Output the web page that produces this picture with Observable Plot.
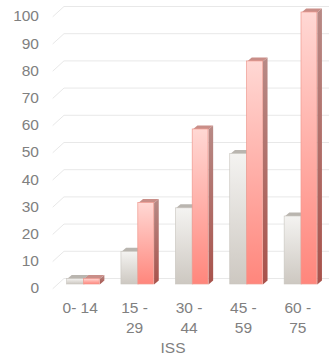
<!DOCTYPE html>
<html>
<head>
<meta charset="utf-8">
<script src="https://cdn.jsdelivr.net/npm/d3@7"></script>
<script src="https://cdn.jsdelivr.net/npm/@observablehq/plot@0.6"></script>
<style>
  html, body { margin: 0; padding: 0; background: #fff; }
  #defs { position: absolute; width: 0; height: 0; }
</style>
</head>
<body>
<svg id="defs" width="0" height="0">
  <defs>
    <linearGradient id="gGrey" x1="0" y1="0" x2="0" y2="1">
      <stop offset="0" stop-color="#f4f3f1"/>
      <stop offset="1" stop-color="#cdc8c1"/>
    </linearGradient>
    <linearGradient id="gRed" x1="0" y1="0" x2="0" y2="1">
      <stop offset="0" stop-color="#ffd8d4"/>
      <stop offset="1" stop-color="#ff867c"/>
    </linearGradient>
    <linearGradient id="gRedSide" x1="0" y1="0" x2="0" y2="1">
      <stop offset="0" stop-color="#b88a86"/>
      <stop offset="1" stop-color="#a8524b"/>
    </linearGradient>
  </defs>
</svg>
<div id="chart"></div>
<script>
// ---- data ----
const categories = ["0- 14", "15 -\n29", "30 -\n44", "45 -\n59", "60 -\n75"];
const seriesGrey = [2, 12, 28, 48, 25];
const seriesRed = [2, 30, 57, 82, 100];
const yTicks = [0, 10, 20, 30, 40, 50, 60, 70, 80, 90, 100];
const axisTitle = "ISS";

// ---- 3D geometry (in data units) ----
const depthX = 0.086, depthY = 1.47;      // bar depth
const gridDX = 0.202, gridDY = 3.68;      // back wall depth
const greyX1 = 0.19, midX = 0.5, redX2 = 0.79;

const fronts = [], sides = [], tops = [];
categories.forEach((c, i) => {
  [["grey", seriesGrey[i], i + greyX1, i + midX], ["red", seriesRed[i], i + midX, i + redX2]].forEach(([s, v, x1, x2]) => {
    fronts.push({s, x1, x2, v});
    const id = s + i;
    [[x2, 0], [x2 + depthX, depthY], [x2 + depthX, v + depthY], [x2, v]].forEach(([x, y]) => sides.push({id, s, x, y}));
    [[x1, v], [x1 + depthX, v + depthY], [x2 + depthX, v + depthY], [x2, v]].forEach(([x, y]) => tops.push({id, s, x, y}));
  });
});
const grid = [];
yTicks.forEach(t => {
  [[0, t], [gridDX, t + gridDY], [5.1, t + gridDY]].forEach(([x, y]) => grid.push({t, x, y}));
});

const greyFront = fronts.filter(d => d.s === "grey");
const redFront = fronts.filter(d => d.s === "red");
const FS = 15.5;

const plot = Plot.plot({
  width: 329,
  height: 363,
  marginLeft: 52.5,
  marginRight: 4.5,
  marginTop: 16,
  marginBottom: 75,
  x: {type: "linear", domain: [0, 5], axis: null},
  y: {type: "linear", domain: [0, 100], axis: null},
  style: {fontFamily: "'Liberation Sans', Arial, sans-serif", fontSize: FS + "px", color: "#808080", background: "#fff"},
  marks: [
    Plot.line(grid, {x: "x", y: "y", z: "t", stroke: "#e8e8e8", strokeWidth: 1}),
    // grey bars
    Plot.line(sides.filter(d => d.s === "grey"), {x: "x", y: "y", z: "id", fill: "#b3afa9", stroke: "none", dx: 3.7, dy: -4}),
    Plot.line(tops.filter(d => d.s === "grey"), {x: "x", y: "y", z: "id", fill: "#b9b5af", stroke: "none", dx: 3.7, dy: -4}),
    Plot.rectY(greyFront, {x1: "x1", x2: "x2", y1: 0, y2: "v", fill: "url(#gGrey)", stroke: "#c9c5bf", strokeWidth: 0.6, dx: 3.7, dy: -4}),
    // red bars
    Plot.line(sides.filter(d => d.s === "red"), {x: "x", y: "y", z: "id", fill: "url(#gRedSide)", stroke: "none", dx: 3.7, dy: -4}),
    Plot.line(tops.filter(d => d.s === "red"), {x: "x", y: "y", z: "id", fill: "#c98e88", stroke: "none", dx: 3.7, dy: -4}),
    Plot.rectY(redFront, {x1: "x1", x2: "x2", y1: 0, y2: "v", fill: "url(#gRed)", stroke: "#ef9a90", strokeWidth: 0.7, dx: 3.7, dy: -4}),
    // y tick labels
    Plot.text(yTicks, {x: 0, y: d => d, text: d => String(d), textAnchor: "end", dx: -14, fill: "#808080", fontSize: FS}),
    // x tick labels
    Plot.text(categories, {x: (d, i) => i + 0.5, y: 0, text: d => d, lineAnchor: "top", dy: 11, lineHeight: 1.25, fill: "#808080", fontSize: FS}),
    // axis title
    Plot.text([axisTitle], {frameAnchor: "bottom", text: d => d, dx: -16, dy: 64, fill: "#808080", fontSize: FS})
  ]
});
document.getElementById("chart").appendChild(plot);
</script>
</body>
</html>
